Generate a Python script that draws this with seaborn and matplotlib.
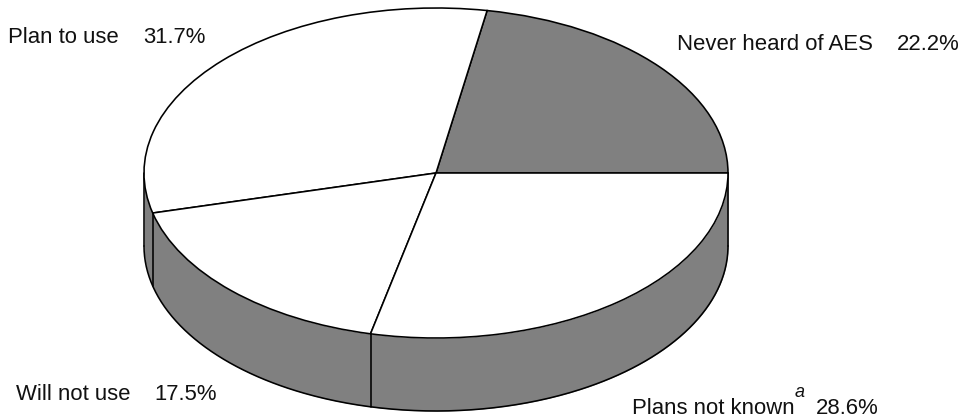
"""Survey pie with a drawn-on side wall, squashed to look like a 3D disc."""

import matplotlib.pyplot as plt
import numpy as np
import seaborn as sns

LABELS = ["Never heard of AES", "Plan to use", "Will not use", "Plans not known"]
SHARES = [22.2, 31.7, 17.5, 28.6]
SHARE_TEXT = ["22.2%", "31.7%", "17.5%", "28.6%"]
FACE_COLORS = ["#808080", "#ffffff", "#ffffff", "#ffffff"]

WIDTH, HEIGHT = 980, 419
CENTER_X, CENTER_Y = 436, 173
RADIUS_X, RADIUS_Y = 292, 165
DEPTH = 73 / RADIUS_Y  # wall height in axis units
GREY = "#808080"
LW = 1.15


def px(x, y):
    """Convert picture pixels to data units of the unit-circle axes."""
    return (x - CENTER_X) / RADIUS_X, (CENTER_Y - y) / RADIUS_Y


sns.set_theme(style="white")
plt.rcParams["font.family"] = ["Liberation Sans", "DejaVu Sans"]

fig = plt.figure(figsize=(WIDTH / 100, HEIGHT / 100), dpi=100)
ax = fig.add_axes([0, 0, 1, 1])

# side wall: the lower half of the rim, pushed down by DEPTH
theta = np.linspace(np.pi, 2 * np.pi, 400)
ax.fill_between(np.cos(theta), np.sin(theta), np.sin(theta) - DEPTH,
                color=GREY, lw=0, zorder=1)
ax.plot(np.cos(theta), np.sin(theta) - DEPTH, color="black", lw=LW, zorder=2)
for edge in (-1, 1):
    ax.plot([edge, edge], [0, -DEPTH], color="black", lw=LW, zorder=2)

# vertical seams where a slice boundary falls on the front of the rim
edges = np.cumsum(SHARES) / np.sum(SHARES) * 2 * np.pi
for angle in edges:
    if np.pi < angle < 2 * np.pi - 1e-6:
        x, y = np.cos(angle), np.sin(angle)
        ax.plot([x, x], [y, y - DEPTH], color="black", lw=LW, zorder=2)

wedges, _ = ax.pie(SHARES, colors=FACE_COLORS, startangle=0, counterclock=True,
                   wedgeprops={"edgecolor": "black", "linewidth": LW})
for wedge in wedges:
    wedge.set_zorder(3)

ax.set_aspect("auto")
ax.set_xlim(px(0, 0)[0], px(WIDTH, 0)[0])
ax.set_ylim(px(0, HEIGHT)[1], px(0, 0)[1])
ax.axis("off")

TEXT_SIZE = 15.9
tx = {"transform": fig.transFigure, "fontsize": TEXT_SIZE, "color": "#111111", "va": "baseline"}


def put(x, y, text, **kw):
    ax.text(x / WIDTH, 1 - y / HEIGHT, text, **{**tx, **kw})


put(677, 50, LABELS[0])
put(897, 50, SHARE_TEXT[0])
put(8, 43, LABELS[1])
put(143, 43, SHARE_TEXT[1])
put(16, 400, LABELS[2])
put(154, 400, SHARE_TEXT[2])
put(632, 414, LABELS[3])
put(795, 397, "a", style="italic", fontsize=13)
put(816, 414, SHARE_TEXT[3])

fig.savefig("out.png", dpi=100)
